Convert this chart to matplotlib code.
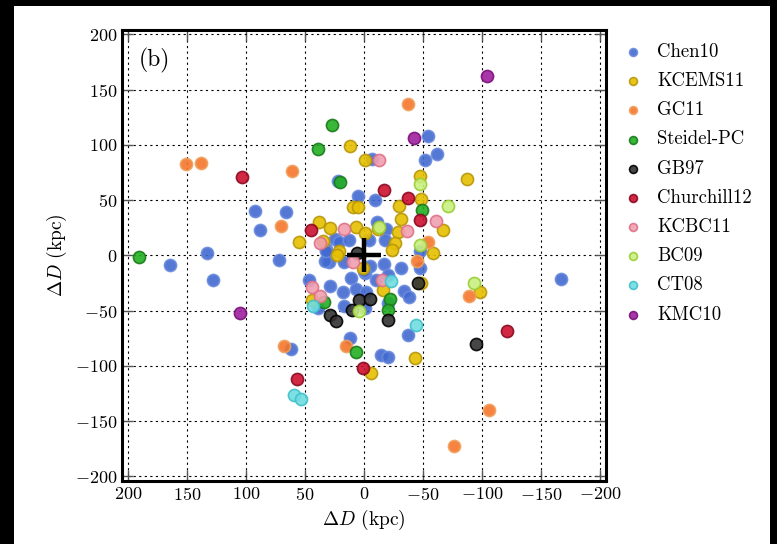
import matplotlib
matplotlib.use("Agg")
from matplotlib import pyplot as plt
from matplotlib.patches import Rectangle

plt.rcParams['font.family'] = 'serif'
plt.rcParams['font.serif'] = ['cmr10', 'DejaVu Serif']
plt.rcParams['mathtext.fontset'] = 'cm'
plt.rcParams['axes.formatter.use_mathtext'] = True

# survey names, in legend order
surveys = ["Chen10", "KCEMS11", "GC11", "Steidel-PC", "GB97",
           "Churchill12", "KCBC11", "BC09", "CT08", "KMC10"]

# offsets (kpc)
chen10_x = [164, 133, 72, 22, 5, 92, 66, 88, 25, 21, 13, 32, 30, 17, -54, -62, -52, -7, -9,
            -11, -19, -18, -4, -47, -17, -31, -47, -5, 128, 62, 47, 39, 29, 18, 11, 7, 17,
            12, 33, -1, -167, -37, -14, -20, -20, -10, -34, -38, -20, -2, 32, -1, 0]
chen10_y = [-9, 2, -4, 67, 54, 40, 39, 23, 15, 12, 14, 6, -6, -6, 108, 92, 86, 87, 50,
            30, 24, 14, 14, 4, -8, -11, -11, -10, -22, -85, -22, -48, -28, -33, -20, -30, -46,
            -75, -5, -16, -21, -72, -90, -92, -18, -22, -32, -38, -43, -33, 4, -48, -14]

kcems11_x = [12, -1, 9, 5, 38, 29, 7, -1, 55, 35, 21, 23, 1, -47, -87, -48, -30, -31, -67,
             -29, -26, -24, -58, 44, -98, -48, -43, -6, -16, -12]
kcems11_y = [99, 86, 44, 44, 30, 25, 26, 20, 12, 13, 4, 0, -11, 72, 69, 51, 45, 33, 23,
             21, 11, 5, 2, -40, -33, -25, -93, -106, -31, 24]

gc11_x = [151, 138, 61, 70, -37, -54, -45, 68, 15, -89, -106, -76]
gc11_y = [83, 84, 76, 27, 137, 12, -5, -82, -82, -37, -140, -172]

steidel_x = [191, 27, 39, 20, -49, 34, 7, -22, -20]
steidel_y = [-1, 118, 96, 66, 41, -42, -87, -39, -49]

gb97_x = [6, 29, 24, 10, 4, -5, -20, -46, -95]
gb97_y = [2, -54, -59, -49, -40, -39, -58, -25, -80]

churchill12_x = [103, 45, -17, -37, -47, 57, 1, -121]
churchill12_y = [71, 23, 59, 52, 32, -112, -102, -68]

kcbc11_x = [17, 37, -13, -61, -36, 9, 44, 37, -15]
kcbc11_y = [24, 11, 86, 31, 22, -6, -29, -37, -22]

bc09_x = [-47, -71, -13, -47, 4, -93]
bc09_y = [65, 45, 26, 9, -50, -25]

ct08_x = [59, 53, 43, -44, -23]
ct08_y = [-126, -130, -46, -63, -23]

kmc10_x = [-104, -42, 105]
kmc10_y = [162, 106, -52]

xs = [chen10_x, kcems11_x, gc11_x, steidel_x, gb97_x,
      churchill12_x, kcbc11_x, bc09_x, ct08_x, kmc10_x]
ys = [chen10_y, kcems11_y, gc11_y, steidel_y, gb97_y,
      churchill12_y, kcbc11_y, bc09_y, ct08_y, kmc10_y]

face = ['#4169d0', '#e6c000', '#f5762a', '#22b022', '#333333',
        '#cc1030', '#f0a0b0', '#c8f080', '#70dde0', '#a020a0']
edge = ['#6a8ade', '#b8960a', '#f0a060', '#1a7a1a', '#000000',
        '#8a0a20', '#e07088', '#9acd32', '#40c0cc', '#7a107a']

fig = plt.figure(figsize=(7.77, 5.44), dpi=100, facecolor='black')
# white page with the black border around it
fig.patches.append(Rectangle((14 / 777, 0), (770 - 14) / 777, 1 - 6 / 544,
                             transform=fig.transFigure, facecolor='white',
                             edgecolor='none', zorder=-10))

ax = fig.add_axes([0.157, 0.116, 0.623, 0.829])

for i in range(len(surveys)):
    ax.scatter(xs[i], ys[i], s=76, c=face[i], edgecolors=edge[i], linewidths=1.2,
               alpha=0.9, label=surveys[i], zorder=3 + i)

# big cross at the origin
ax.plot([0], [0], marker='+', ms=25, mew=3.2, color='k', zorder=20)

ax.set_xlim(205, -205)
ax.set_ylim(-204, 204)
ax.set_xticks([200, 150, 100, 50, 0, -50, -100, -150, -200])
ax.set_yticks([200, 150, 100, 50, 0, -50, -100, -150, -200])
ax.grid(True, linestyle=(0, (2, 3)), color='k', linewidth=0.8)
ax.set_axisbelow(True)
ax.tick_params(direction='in', length=8, width=1, top=True, right=True,
               labelsize=13, color='#555555')
for sp in ax.spines.values():
    sp.set_linewidth(2.2)

ax.set_xlabel(r'$\Delta D$ (kpc)', fontsize=14)
ax.set_ylabel(r'$\Delta D$ (kpc)', fontsize=14)
ax.text(0.035, 0.933, '(b)', transform=ax.transAxes, fontsize=17, va='center')

ax.legend(loc='upper left', bbox_to_anchor=(0.99, 1.0), frameon=False,
          markerscale=0.65, fontsize=13.5, handletextpad=0.3, labelspacing=0.6,
          borderaxespad=0.3, scatterpoints=1)

plt.savefig('out.png', dpi=100, facecolor=fig.get_facecolor())
